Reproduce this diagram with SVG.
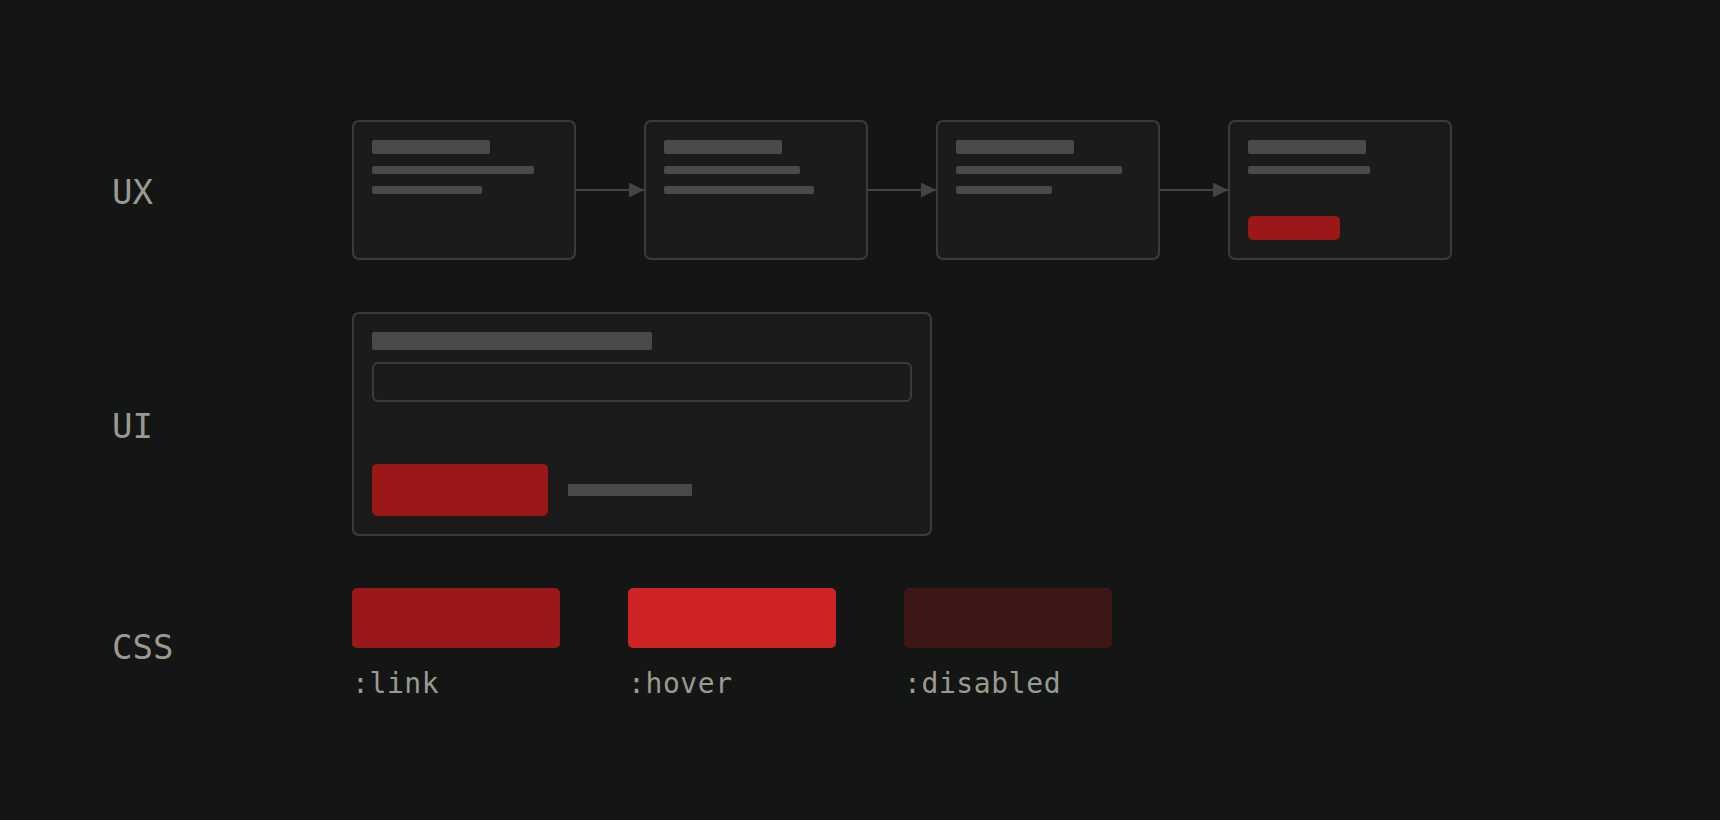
<svg xmlns="http://www.w3.org/2000/svg" width="1720" height="820" viewBox="0 0 1720 820">
<style>
.card{fill:#1b1b1b;stroke:#3b3b3b;stroke-width:2}
.bar{fill:#4a4a48}
.lbl{font-family:"DejaVu Sans Mono","Liberation Mono",monospace;font-size:34px;fill:#9b9a8f}
.state{font-family:"DejaVu Sans Mono","Liberation Mono",monospace;font-size:28px;fill:#9b9a8f;letter-spacing:0.6px}
.red{fill:#9b1818}
.conn{stroke:#444444;stroke-width:2;fill:none}
</style>
<defs>
<marker id="ah" markerWidth="16" markerHeight="16" refX="15" refY="7.5" orient="auto" markerUnits="userSpaceOnUse">
<path d="M0,0 L15,7.5 L0,15 Z" fill="#444444"/>
</marker>
</defs>
<rect width="1720" height="820" fill="#141615"/>
<g id="labels">
<text class="lbl" x="112" y="204">UX</text>
<text class="lbl" x="112" y="438">UI</text>
<text class="lbl" x="112" y="659">CSS</text>
</g>
<g id="connectors">
<line class="conn" x1="575" y1="190" x2="644" y2="190" marker-end="url(#ah)"/>
<line class="conn" x1="867" y1="190" x2="936" y2="190" marker-end="url(#ah)"/>
<line class="conn" x1="1159" y1="190" x2="1228" y2="190" marker-end="url(#ah)"/>
</g>
<g id="ux1">
<rect class="card" x="353" y="121" width="222" height="138" rx="6"/>
<rect class="bar" x="372" y="140" width="118" height="14" rx="2"/>
<rect class="bar" x="372" y="166" width="162" height="8" rx="2"/>
<rect class="bar" x="372" y="186" width="110" height="8" rx="2"/>
</g>
<g id="ux2">
<rect class="card" x="645" y="121" width="222" height="138" rx="6"/>
<rect class="bar" x="664" y="140" width="118" height="14" rx="2"/>
<rect class="bar" x="664" y="166" width="136" height="8" rx="2"/>
<rect class="bar" x="664" y="186" width="150" height="8" rx="2"/>
</g>
<g id="ux3">
<rect class="card" x="937" y="121" width="222" height="138" rx="6"/>
<rect class="bar" x="956" y="140" width="118" height="14" rx="2"/>
<rect class="bar" x="956" y="166" width="166" height="8" rx="2"/>
<rect class="bar" x="956" y="186" width="96" height="8" rx="2"/>
</g>
<g id="ux4">
<rect class="card" x="1229" y="121" width="222" height="138" rx="6"/>
<rect class="bar" x="1248" y="140" width="118" height="14" rx="2"/>
<rect class="bar" x="1248" y="166" width="122" height="8" rx="2"/>
<rect class="red" x="1248" y="216" width="92" height="24" rx="5"/>
</g>
<g id="ui">
<rect class="card" x="353" y="313" width="578" height="222" rx="6"/>
<rect class="bar" x="372" y="332" width="280" height="18" rx="2"/>
<rect x="373" y="363" width="538" height="38" rx="5" fill="#1b1b1b" stroke="#3b3b3b" stroke-width="2"/>
<rect class="red" x="372" y="464" width="176" height="52" rx="5"/>
<rect class="bar" x="568" y="484" width="124" height="12" rx="1"/>
</g>
<g id="css-link">
<rect x="352" y="588" width="208" height="60" rx="5" fill="#9b1818"/>
<text class="state" x="352" y="693">:link</text>
</g>
<g id="css-hover">
<rect x="628" y="588" width="208" height="60" rx="5" fill="#cc2424"/>
<text class="state" x="628" y="693">:hover</text>
</g>
<g id="css-disabled">
<rect x="904" y="588" width="208" height="60" rx="5" fill="#3f1616"/>
<text class="state" x="904" y="693">:disabled</text>
</g>
</svg>
